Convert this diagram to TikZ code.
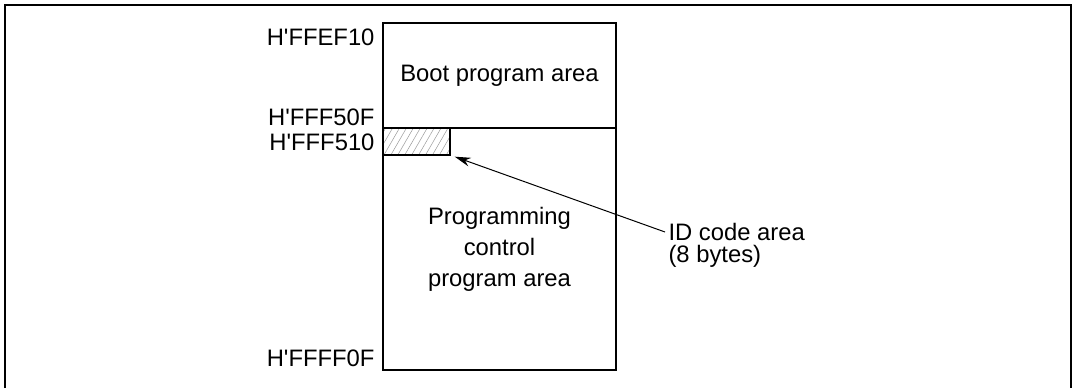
\documentclass[tikz,border=0pt]{standalone}
\usepackage{fontspec}
\setmainfont{Liberation Sans}
\usetikzlibrary{arrows.meta,patterns.meta}
\begin{document}
\begin{tikzpicture}[x=1pt, y=-1pt, font=\fontsize{23.8}{31}\selectfont, >={Stealth[length=16pt,width=9pt]},
  every node/.style={align=center},
  area/.style={draw, line width=1.2pt, outer sep=0pt, minimum width=233pt}]
  \useasboundingbox (0,0) rectangle (1073,388);
  \draw[line width=2pt] (5,388) -- (5,5) -- (1071,5) -- (1071,388);
  \node[area, minimum height=105pt] (boot) at (499.5,75.5) {Boot program area};
  \node[area, minimum height=242pt] (prog) at (499.5,249) {Programming\\control\\program area};
  \node[draw, line width=1.2pt, outer sep=0pt, minimum width=67pt, minimum height=27pt,
    pattern={Lines[angle=60, distance=6pt, line width=0.5pt]}, pattern color=gray!80]
    (hatch) at (416.5,141.5) {};
  \node[anchor=east] (a1) at (378,37) {H\textquotesingle FFEF10};
  \node[anchor=east] (a2) at (378,117) {H\textquotesingle FFF50F};
  \node[anchor=east] (a3) at (378,142) {H\textquotesingle FFF510};
  \node[anchor=east] (a4) at (378,358) {H\textquotesingle FFFF0F};
  \node[anchor=west] (idcode) at (665,232) {ID code area};
  \node[anchor=west] (idbytes) at (665,256) {(8 bytes)};
  \draw[->, line width=1pt, shorten >=5pt] (idcode.west) -- (hatch.south east);
\end{tikzpicture}
\end{document}
